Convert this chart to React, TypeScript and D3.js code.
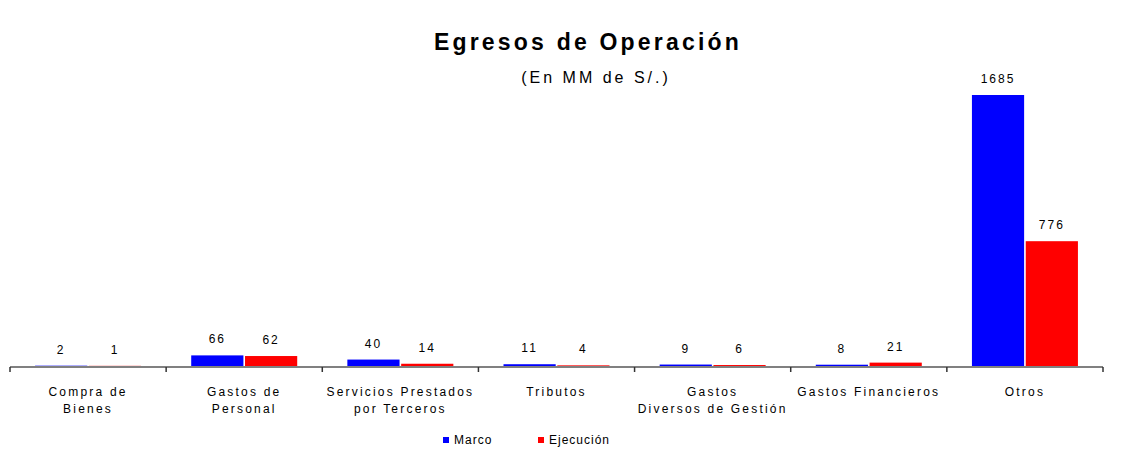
import React, { useRef, useEffect } from "react";
import * as d3 from "d3";

const categories = [
  "Compra de|Bienes",
  "Gastos de|Personal",
  "Servicios Prestados|por Terceros",
  "Tributos",
  "Gastos|Diversos de Gestión",
  "Gastos Financieros",
  "Otros",
];
const marco = [2, 66, 40, 11, 9, 8, 1685];
const ejecucion = [1, 62, 14, 4, 6, 21, 776];
const seriesNames = ["Marco", "Ejecución"];
const seriesColors = ["#0000ff", "#ff0000"];

const W = 1125;
const H = 455;

const App = () => {
  const ref = useRef<SVGSVGElement>(null);

  useEffect(() => {
    document.body.style.margin = "0";
    const svg = d3.select(ref.current);
    svg.selectAll("*").remove();

    const x = d3.scaleBand().domain(categories).range([10, 1103]).paddingInner(0).paddingOuter(0);
    const inner = d3.scaleBand().domain(seriesNames).range([0, 106]).paddingInner(0.03);
    const y = d3.scaleLinear().domain([0, 1685]).range([366, 95]);

    const font = "Liberation Sans, Arial, sans-serif";

    // title
    svg.append("text")
      .attr("x", 588).attr("y", 50)
      .attr("text-anchor", "middle")
      .attr("font-family", font).attr("font-weight", "bold").attr("font-size", 23)
      .attr("letter-spacing", 3.2)
      .text("Egresos de Operación");
    svg.append("text")
      .attr("x", 596).attr("y", 83)
      .attr("text-anchor", "middle")
      .attr("font-family", font).attr("font-size", 16)
      .attr("letter-spacing", 3)
      .text("(En MM de S/.)");

    const rows = categories.map((c, i) => ({ c, vals: [marco[i], ejecucion[i]] }));

    const g = svg.append("g");
    rows.forEach((r) => {
      const cx = x(r.c)! + x.bandwidth() / 2 - 53;
      r.vals.forEach((v, j) => {
        const bx = cx + inner(seriesNames[j])!;
        g.append("rect")
          .attr("x", bx).attr("y", y(v))
          .attr("width", inner.bandwidth()).attr("height", 366 - y(v))
          .attr("fill", seriesColors[j]);
        g.append("text")
          .attr("x", bx + inner.bandwidth() / 2).attr("y", y(v) - 12)
          .attr("text-anchor", "middle")
          .attr("font-family", font).attr("font-size", 12)
          .attr("letter-spacing", 2)
          .text(v);
      });
    });

    // axis
    const ax = svg.append("g");
    ax.append("line")
      .attr("x1", 10).attr("x2", 1103).attr("y1", 367).attr("y2", 367)
      .attr("stroke", "#808080").attr("stroke-width", 2);
    const ticks = categories.map((c) => x(c)!).concat([x.range()[1]]);
    ax.selectAll("line.tick").data(ticks).join("line")
      .attr("class", "tick")
      .attr("x1", (d) => d).attr("x2", (d) => d)
      .attr("y1", 367).attr("y2", 372)
      .attr("stroke", "#333").attr("stroke-width", 1.5);

    categories.forEach((c) => {
      const lines = c.split("|");
      const t = ax.append("text")
        .attr("text-anchor", "middle")
        .attr("font-family", font).attr("font-size", 12)
        .attr("letter-spacing", 2.2)
        .attr("y", 396);
      lines.forEach((l, k) => {
        t.append("tspan")
          .attr("x", x(c)! + x.bandwidth() / 2)
          .attr("dy", k === 0 ? 0 : 17)
          .text(l);
      });
    });

    // legend
    const legX = [443, 538];
    seriesNames.forEach((s, j) => {
      svg.append("rect")
        .attr("x", legX[j]).attr("y", 437)
        .attr("width", 6).attr("height", 6)
        .attr("fill", seriesColors[j]);
      svg.append("text")
        .attr("x", legX[j] + 11).attr("y", 444)
        .attr("font-family", font).attr("font-size", 12)
        .attr("letter-spacing", 1)
        .text(s);
    });
  }, []);

  return <svg ref={ref} width={W} height={H} style={{ display: "block", background: "#fff" }}></svg>;
};

export default App;
